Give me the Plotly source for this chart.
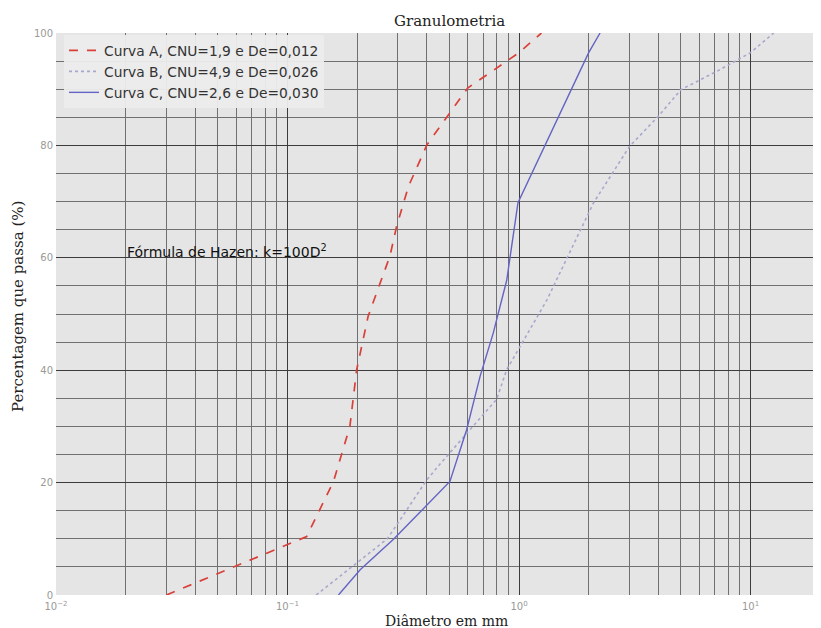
import plotly.graph_objects as go

# ---- data ----
curve_a_d = [0.03, 0.121, 0.158, 0.186, 0.199, 0.223, 0.277, 0.296, 0.333, 0.40, 0.60, 1.0, 1.25]
curve_a_p = [0, 10.4, 20.2, 30, 40.1, 49.6, 60.3, 65.6, 72.7, 80.1, 90.2, 96.5, 100]

curve_b_d = [0.133, 0.27, 0.40, 0.46, 0.80, 0.885, 1.32, 2.1, 3.0, 4.0, 5.0, 7.4, 10.0, 12.6]
curve_b_p = [0, 10, 20.5, 23.5, 34.8, 40.1, 52.5, 69.8, 79.8, 85.2, 89.9, 93.5, 96.5, 100]

curve_c_d = [0.166, 0.206, 0.287, 0.503, 0.594, 0.679, 0.774, 0.885, 0.99, 2.0, 2.24]
curve_c_p = [0, 4.5, 9.9, 20.2, 29.4, 38.9, 46.6, 56, 69.8, 96.5, 100]

names = ["Curva A, CNU=1,9 e De=0,012",
         "Curva B, CNU=4,9 e De=0,026",
         "Curva C, CNU=2,6 e De=0,030"]

x_tickvals = [0.01, 0.1, 1, 10]
x_ticktext = ["10<sup>−2</sup>", "10<sup>−1</sup>", "10<sup>0</sup>", "10<sup>1</sup>"]
y_tickvals = [0, 20, 40, 60, 80, 100]

fig = go.Figure()
fig.add_trace(go.Scatter(x=curve_a_d, y=curve_a_p, mode="lines", name=names[0],
                         line=dict(color="#D9403A", width=1.7, dash="dash")))
fig.add_trace(go.Scatter(x=curve_b_d, y=curve_b_p, mode="lines", name=names[1],
                         line=dict(color="#A8A8CC", width=1.6, dash="dot")))
fig.add_trace(go.Scatter(x=curve_c_d, y=curve_c_p, mode="lines", name=names[2],
                         line=dict(color="#6464C4", width=1.4)))

# page body adds an 8px offset; target screen geometry of the plot area
OFF = 8
SW, SH = 821, 628
PL, PT, PR, PB = 56, 33, 821, 595   # plot area in screen pixels
W, H = SW - OFF, SH - OFF
ml, mt = PL - OFF, PT - OFF
mr = (SW - PR)
mb = SH - PB
pw = PR - PL
ph = PB - PT

def px_x(p):
    return (p - PL) / pw

def px_y(p):
    return (PB - p) / ph

fig.update_layout(
    width=W, height=H,
    margin=dict(l=ml, r=mr, t=mt, b=mb, pad=0),
    paper_bgcolor="white",
    plot_bgcolor="#E5E5E5",
    font=dict(family="DejaVu Sans", color="#222"),
    showlegend=True,
    legend=dict(x=px_x(64), y=px_y(35), xanchor="left", yanchor="top",
                bgcolor="rgba(236,236,236,0.95)", borderwidth=0,
                font=dict(family="DejaVu Sans", size=13.8, color="#333"),
                tracegroupgap=0),
    xaxis=dict(type="log", range=[-2, -2 + pw / 231.5],
               tickvals=x_tickvals, ticktext=x_ticktext,
               tickfont=dict(size=10, color="#999"), ticklabelstandoff=4,
               showgrid=True, gridcolor="#3c3c3c", gridwidth=1.2,
               zeroline=False, showline=False, ticks="",
               minor=dict(dtick="D1", showgrid=True, gridcolor="#707070", gridwidth=0.8, ticks="")),
    yaxis=dict(range=[0, 100], tickvals=y_tickvals,
               tickfont=dict(size=10, color="#999"), ticklabelstandoff=2,
               showgrid=True, gridcolor="#3c3c3c", gridwidth=1.2,
               zeroline=False, showline=False, ticks="",
               minor=dict(dtick=5, showgrid=True, gridcolor="#707070", gridwidth=0.8, ticks="")),
)

fig.add_annotation(text="Granulometria", xref="paper", yref="paper",
                   x=px_x(450), y=px_y(21), showarrow=False, yanchor="middle",
                   font=dict(family="DejaVu Serif", size=15, color="#222"))
fig.add_annotation(text="Diâmetro em mm", xref="paper", yref="paper",
                   x=px_x(447), y=px_y(621), showarrow=False, yanchor="middle",
                   font=dict(family="DejaVu Serif", size=14, color="#222"))
fig.add_annotation(text="Percentagem que passa (%)", xref="paper", yref="paper",
                   x=px_x(18), y=px_y(307), showarrow=False, textangle=-90,
                   xanchor="center", yanchor="middle",
                   font=dict(family="DejaVu Serif", size=15, color="#222"))
fig.add_annotation(text="Fórmula de Hazen: k=100D<sup>2</sup>", xref="paper", yref="paper",
                   x=px_x(125), y=px_y(251), xanchor="left", yanchor="middle", showarrow=False,
                   font=dict(family="DejaVu Sans", size=14, color="#111"))

fig.write_html("out.html")
